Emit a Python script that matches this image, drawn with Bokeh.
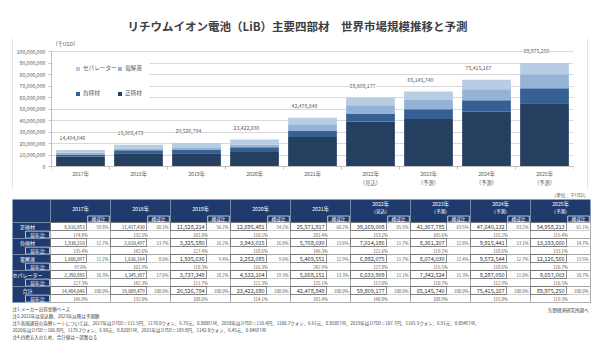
from bokeh.plotting import figure
from bokeh.models import (ColumnDataSource, FactorRange, Range1d, Legend, LegendItem,
                          LabelSet, Label, BoxAnnotation, FixedTicker, NumeralTickFormatter, Spacer)
from bokeh.layouts import column, row
from bokeh.embed import file_html
from bokeh.resources import INLINE
from bokeh.core.properties import value

# ---------------- data ----------------
title_text = "リチウムイオン電池（LiB）主要四部材　世界市場規模推移と予測"
years = ["2017年", "2018年", "2019年", "2020年", "2021年", "2022年", "2023年", "2024年", "2025年"]
year_notes = ["", "", "", "", "", "（見込）", "（予測）", "（予測）", "（予測）"]
series_names = ["正極材", "負極材", "電解液", "セパレーター"]

cathode = [8616853, 11417430, 11528214, 12695481, 25571817, 39169008, 41367785, 47640132, 54958213]
anode = [1830210, 2610497, 3325580, 3943015, 5768030, 7014186, 8361207, 9915441, 13193660]
electrolyte = [1606097, 1636164, 1935636, 2252085, 5469551, 6992075, 8074030, 9572544, 12126566]
separator = [2350886, 3345387, 3737348, 4532104, 5668151, 6633909, 7342524, 8287050, 9657003]
totals = [14404046, 19009479, 20526784, 23422680, 42478848, 59809177, 65145740, 75415167, 89975250]

cathode_share = ["59.8%", "60.1%", "56.2%", "54.2%", "60.2%", "65.5%", "63.5%", "63.2%", "61.1%"]
anode_share = ["12.7%", "13.7%", "16.2%", "16.8%", "13.6%", "11.7%", "12.8%", "13.1%", "14.7%"]
electrolyte_share = ["11.2%", "8.6%", "9.4%", "9.6%", "12.9%", "11.7%", "12.4%", "12.7%", "13.5%"]
separator_share = ["16.3%", "17.6%", "18.2%", "19.3%", "13.3%", "11.1%", "11.3%", "11.0%", "10.7%"]
total_share = ["100.0%", "100.0%", "100.0%", "100.0%", "100.0%", "100.0%", "100.0%", "100.0%", "100.0%"]

cathode_yoy = ["174.8%", "132.5%", "101.0%", "110.1%", "201.4%", "153.2%", "105.6%", "115.2%", "115.4%"]
anode_yoy = ["135.4%", "142.6%", "127.4%", "118.6%", "146.3%", "121.6%", "119.2%", "118.6%", "133.1%"]
electrolyte_yoy = ["97.0%", "101.9%", "118.3%", "116.3%", "242.9%", "127.8%", "115.5%", "118.6%", "126.7%"]
separator_yoy = ["127.3%", "142.3%", "111.7%", "121.3%", "125.1%", "117.0%", "110.7%", "112.9%", "116.5%"]
total_yoy = ["146.8%", "132.0%", "108.0%", "114.1%", "181.4%", "140.8%", "108.9%", "115.8%", "119.3%"]

y_ticks = [0, 10000000, 20000000, 30000000, 40000000, 50000000, 60000000, 70000000, 80000000, 90000000, 100000000]
axis_unit = "（千USD）"
table_unit = "（単位：千USD）"
share_header = "構成比"
yoy_label = "前年比"
total_label = "合計"
notes = [
    "注1.メーカー出荷金額ベース",
    "注2.2022年は見込額、2023年以降は予測額",
    "注3.各国通貨の為替レートについては、2017年は1USD＝111.5円、1178.0ウォン、6.79元、0.888EUR、2018年は1USD＝110.4円、1100.7ウォン、6.61元、0.858EUR、2019年は1USD＝107.7円、1165.5ウォン、6.91元、0.894EUR、",
    "2020年は1USD＝106.8円、1179.2ウォン、6.90元、0.820EUR、2021年は1USD＝109.8円、1142.8ウォン、6.45元、0.846EUR",
    "注4.四捨五入のため、合計値は一部異なる",
]
source_note = "矢野経済研究所調べ"

# ---------------- style ----------------
FONT_NAME = "Noto Sans CJK JP"
FONT = value(FONT_NAME)
colors = ["#243f60", "#366092", "#95b3d7", "#b8cce4"]
navy = "#1f3b6e"
box_color = "#cfcfcf"
W = 600

def blank(w, h, color="white"):
    f = figure(width=w, height=h, output_backend="svg", toolbar_location=None, min_border=0,
               x_axis_location=None, y_axis_location=None, x_range=Range1d(0, 1),
               y_range=Range1d(0, 1))
    f.grid.visible = False
    f.outline_line_color = None
    f.background_fill_color = color
    f.border_fill_color = color
    return f

# ---------------- title strip ----------------
TITLE_H = 37
tf = blank(W, TITLE_H)
tf.x_range = Range1d(0, W)
tf.y_range = Range1d(TITLE_H, 0)
tf.text(x=[W / 2 - 3], y=[25.5], text=[title_text], text_align="center", text_baseline="middle",
        text_font=FONT, text_font_size=value("11.5px"), text_font_style="bold",
        text_color="#404040")

# ---------------- chart ----------------
BOX_L, BOX_T, BOX_W, BOX_H = 12, 37, 576, 153
PX0, PY0 = BOX_L + 1, BOX_T + 1            # page origin of the chart figure
CW, CH = BOX_W - 2, BOX_H - 2
FL, FR = 49, 573                           # frame left/right (page px)
FT, FBOT = PY0, PY0 + CH                   # frame top/bottom (page px)
ZERO_Y = 166                               # page y of value 0
PX100 = 115                                # px from 0 to the top tick
YTOP = y_ticks[-1]

def sy(py):  # page px -> data y
    return (ZERO_Y - py) / PX100 * YTOP

def sx(px):  # page px -> synthetic x
    return (px - FL) / (FR - FL) * len(years)

p = figure(width=CW, height=CH, x_range=FactorRange(factors=years, range_padding=0),
           y_range=Range1d(sy(FBOT), sy(FT)), output_backend="svg", toolbar_location=None,
           x_axis_location=None, min_border_left=FL - PX0, min_border_right=PX0 + CW - FR,
           min_border_top=0, min_border_bottom=0)
p.outline_line_color = None
p.background_fill_color = "white"
p.border_fill_color = "white"

src = ColumnDataSource(dict(year=years, cathode=cathode, anode=anode,
                            electrolyte=electrolyte, separator=separator))
rs = p.vbar_stack(["cathode", "anode", "electrolyte", "separator"], x="year", width=0.84,
                  color=colors, line_color=None, source=src)

p.ygrid.grid_line_color = "#d9d9d9"
p.ygrid.bounds = (0, YTOP)
p.xgrid.visible = False
p.yaxis.ticker = FixedTicker(ticks=y_ticks)
p.yaxis.formatter = NumeralTickFormatter(format="0,0")
p.yaxis.bounds = (0, YTOP)
p.yaxis.axis_line_color = "#bfbfbf"
p.yaxis.major_label_text_font = FONT_NAME
p.yaxis.major_label_text_font_size = "5.2px"
p.yaxis.major_label_text_color = "#595959"
p.yaxis.minor_tick_line_color = None
p.yaxis.major_tick_line_color = "#bfbfbf"
p.yaxis.major_tick_out = 3
p.yaxis.major_tick_in = 0
p.yaxis.major_label_standoff = 3

# category axis line and boundary ticks
nb = len(years) + 1
p.segment(x0=[0], x1=[len(years)], y0=[0], y1=[0], line_color="#bfbfbf", line_width=1)
p.segment(x0=list(range(nb)), x1=list(range(nb)), y0=[0] * nb, y1=[sy(ZERO_Y + 3)] * nb,
          line_color="#bfbfbf", line_width=1)

# category labels
p.text(x=years, y=[sy(173)] * len(years), text=years, text_align="center",
       text_baseline="middle", text_font=FONT, text_font_size=value("5.2px"),
       text_color="#595959")
ni = [i for i, nt in enumerate(year_notes) if nt]
p.text(x=[years[i] for i in ni], y=[sy(182)] * len(ni), text=[year_notes[i] for i in ni],
       text_align="center", text_baseline="middle", text_font=FONT,
       text_font_size=value("5.2px"), text_color="#595959")

# legend background
p.add_layout(BoxAnnotation(left=sx(50), right=sx(147), top=sy(57), bottom=sy(102),
                           fill_color="white", fill_alpha=1, line_color=None))

lab_src = ColumnDataSource(dict(x=years, y=totals, t=[f"{v:,}" for v in totals]))
p.add_layout(LabelSet(x="x", y="y", text="t", source=lab_src, x_offset=-8, y_offset=12,
                      text_align="center", text_baseline="middle", text_font=FONT,
                      text_font_size="5.2px", text_color="#595959",
                      background_fill_color="white", background_fill_alpha=1))

def legend_row(items, loc):
    lg = Legend(items=items, location=loc, orientation="horizontal", padding=0, margin=0,
                spacing=0, glyph_width=5, glyph_height=5, label_width=34, label_height=6,
                label_standoff=3, label_text_font=FONT_NAME, label_text_font_size="5.6px",
                label_text_color="#595959", background_fill_alpha=0, border_line_color=None)
    p.add_layout(lg, "center")

legend_row([LegendItem(label=series_names[3], renderers=[rs[3]]),
            LegendItem(label=series_names[2], renderers=[rs[2]])], (73 - FL, FBOT - 72))
legend_row([LegendItem(label=series_names[1], renderers=[rs[1]]),
            LegendItem(label=series_names[0], renderers=[rs[0]])], (73 - FL, FBOT - 97))

p.add_layout(Label(x=sx(50), y=sy(43), text=axis_unit, text_align="left",
                   text_baseline="middle", text_font=FONT_NAME, text_font_size="5.2px",
                   text_color="#595959"))

chart_block = row(Spacer(width=BOX_L, height=BOX_H),
                  column(blank(BOX_W, 1, box_color),
                         row(blank(1, CH, box_color), p, blank(1, CH, box_color)),
                         blank(BOX_W, 1, box_color)))

# ---------------- table ----------------
TOP = BOX_T + BOX_H     # page y where the table figure starts
TH = 357 - TOP
COLW, ROWH = 60, 8
C0 = 50                 # page x of the first year column
t = figure(width=W, height=TH, x_range=Range1d(-C0 / COLW, (W - C0) / COLW),
           y_range=Range1d(TH / ROWH, 0), output_backend="svg", toolbar_location=None,
           min_border=0, x_axis_location=None, y_axis_location=None)
t.grid.visible = False
t.outline_line_color = None

def ux(px):
    return (px - C0) / COLW

def uy(py):
    return (py - TOP) / ROWH

n = len(years)
LBL_L = ux(12)
HEAD_T, HEAD_B = uy(199), uy(222)

t.text(x=[ux(588)], y=[uy(194)], text=[table_unit], text_align="right",
       text_baseline="middle", text_font=FONT, text_font_size=value("4.6px"),
       text_color="#595959")

# header
t.quad(left=[LBL_L], right=[n], top=[HEAD_T], bottom=[HEAD_B], fill_color=navy, line_color=None)
t.segment(x0=list(range(n)), x1=list(range(n)), y0=[HEAD_T] * n, y1=[HEAD_B] * n,
          line_color="#8a9bb8", line_width=0.8)
hy = [uy(207.5) if not nt else uy(203) for nt in year_notes]
t.text(x=[i + 0.5 for i in range(n)], y=hy, text=years, text_align="center",
       text_baseline="middle", text_font=FONT, text_font_size=value("5.2px"), text_color="white")
t.text(x=[i + 0.5 for i in ni], y=[uy(210)] * len(ni), text=[year_notes[i] for i in ni],
       text_align="center", text_baseline="middle", text_font=FONT,
       text_font_size=value("4.6px"), text_color="white")
t.quad(left=[i + 0.62 for i in range(n)], right=[i + 0.98 for i in range(n)],
       top=[uy(215.5)] * n, bottom=[uy(221.5)] * n, fill_alpha=0, line_color="#e0e6f0",
       line_width=0.8)
t.text(x=[i + 0.8 for i in range(n)], y=[uy(218.6)] * n, text=[share_header] * n,
       text_align="center", text_baseline="middle", text_font=FONT,
       text_font_size=value("4.6px"), text_color="white")

groups = [
    (series_names[0], cathode, cathode_share, cathode_yoy),
    (series_names[1], anode, anode_share, anode_yoy),
    (series_names[2], electrolyte, electrolyte_share, electrolyte_yoy),
    (series_names[3], separator, separator_share, separator_yoy),
    (total_label, totals, total_share, total_yoy),
]
for g, (name, vals, shares, yoys) in enumerate(groups):
    rv = HEAD_B + 2 * g
    ry = rv + 1
    # label column
    t.quad(left=[LBL_L], right=[0], top=[rv], bottom=[ry + 1], fill_color=navy,
           line_color="#8a9bb8", line_width=0.6)
    t.text(x=[ux(27)], y=[rv + 0.55], text=[name], text_align="center", text_baseline="middle",
           text_font=FONT, text_font_size=value("5px"), text_color="white")
    t.quad(left=[ux(25)], right=[ux(49)], top=[ry + 0.08], bottom=[ry + 0.95], fill_alpha=0,
           line_color="#dfe6f0", line_width=0.8)
    t.text(x=[ux(37)], y=[ry + 0.55], text=[yoy_label], text_align="center",
           text_baseline="middle", text_font=FONT, text_font_size=value("4.8px"),
           text_color="white")
    # cells
    t.quad(left=list(range(n)), right=[i + 1 for i in range(n)], top=[rv] * n,
           bottom=[ry + 1] * n, fill_color="white", line_color="#9a9a9a", line_width=0.8)
    t.segment(x0=list(range(n)), x1=[i + 1 for i in range(n)], y0=[ry] * n, y1=[ry] * n,
              line_color="#b0b0b0", line_width=0.6)
    t.quad(left=list(range(n)), right=[i + 0.6 for i in range(n)], top=[rv] * n,
           bottom=[ry] * n, fill_alpha=0, line_color="#606060", line_width=0.7)
    big = [i for i in range(n) if i >= 2]
    small = [i for i in range(n) if i < 2]
    for idx, fs in ((small, "4.6px"), (big, "5.6px")):
        t.text(x=[i + 0.57 for i in idx], y=[rv + 0.55] * len(idx),
               text=[f"{vals[i]:,}" for i in idx], text_align="right", text_baseline="middle",
               text_font=FONT, text_font_size=value(fs), text_color="#333333")
    t.text(x=[i + 0.97 for i in range(n)], y=[rv + 0.55] * n, text=shares, text_align="right",
           text_baseline="middle", text_font=FONT, text_font_size=value("4.3px"),
           text_color="#555555")
    t.text(x=[i + 0.5 for i in range(n)], y=[ry + 0.55] * n, text=yoys, text_align="center",
           text_baseline="middle", text_font=FONT, text_font_size=value("4.3px"),
           text_color="#555555")

# footnotes
t.text(x=[LBL_L] * len(notes), y=[uy(308 + 7 * k) for k in range(len(notes))], text=notes,
       text_align="left", text_baseline="middle", text_font=FONT,
       text_font_size=value("4.5px"), text_color="#404040")
t.text(x=[ux(588)], y=[uy(309)], text=[source_note], text_align="right",
       text_baseline="middle", text_font=FONT, text_font_size=value("4.5px"),
       text_color="#404040")

layout = column(tf, chart_block, t)
open("out.html", "w").write(file_html(layout, INLINE))
